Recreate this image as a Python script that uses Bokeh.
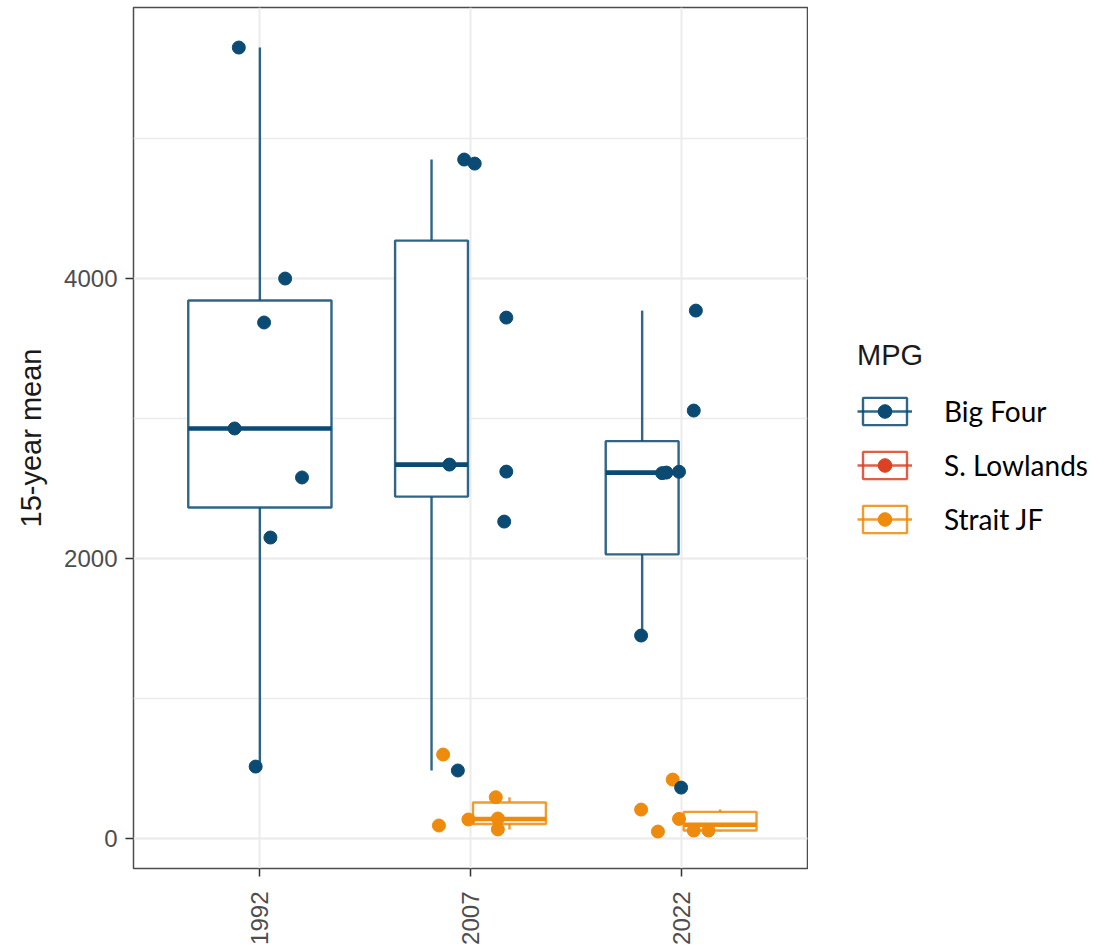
import math
import numpy as np
from bokeh.plotting import figure
from bokeh.layouts import row
from bokeh.models import (ColumnDataSource, Range1d, FixedTicker, SingleIntervalTicker,
                          Legend, LegendItem)
from bokeh.embed import file_html
from bokeh.resources import INLINE

# ---------------- data ----------------
years = ["1992", "2007", "2022"]
groups = ["Big Four", "S. Lowlands", "Strait JF"]
group_colors = ["#0b4a72", "#dd4124", "#ee8a0c"]

big_four_1992 = [5650, 4000, 3686, 2929, 2579, 2150, 514]
big_four_2007 = [4850, 4821, 3721, 2671, 2621, 2264, 486]
big_four_2022 = [3771, 3057, 2620, 2614, 2610, 1450, 364]

s_lowlands_1992 = []
s_lowlands_2007 = []
s_lowlands_2022 = []

strait_jf_1992 = []
strait_jf_2007 = [600, 93, 136, 295, 143, 65]
strait_jf_2022 = [421, 207, 50, 140, 57, 57]

# horizontal jitter of each point (fraction of the category spacing), as seen
jitter_big_four_1992 = [-0.10, 0.12, 0.02, -0.12, 0.20, 0.05, -0.02]
jitter_big_four_2007 = [-0.03, 0.02, 0.17, -0.10, 0.17, 0.16, -0.06]
jitter_big_four_2022 = [0.07, 0.06, -0.01, -0.07, -0.09, -0.19, 0.00]
jitter_strait_jf_2007 = [-0.13, -0.15, -0.01, 0.12, 0.13, 0.13]
jitter_strait_jf_2022 = [-0.04, -0.19, -0.11, -0.01, 0.06, 0.13]

values = {
    "Big Four": [big_four_1992, big_four_2007, big_four_2022],
    "S. Lowlands": [s_lowlands_1992, s_lowlands_2007, s_lowlands_2022],
    "Strait JF": [strait_jf_1992, strait_jf_2007, strait_jf_2022],
}
jitters = {
    "Big Four": [jitter_big_four_1992, jitter_big_four_2007, jitter_big_four_2022],
    "S. Lowlands": [[], [], []],
    "Strait JF": [[], jitter_strait_jf_2007, jitter_strait_jf_2022],
}

# ---------------- layout constants ----------------
SINGLE_W = 0.68
DODGE_W = 0.346
DODGE_OFF = 0.185
FONT = "Liberation Sans"
LINE_W = 2.4


def box_stats(v):
    v = np.asarray(v, dtype=float)
    q1, med, q3 = np.percentile(v, [25, 50, 75])
    iqr = q3 - q1
    lo = v[v >= q1 - 1.5 * iqr].min()
    hi = v[v <= q3 + 1.5 * iqr].max()
    return q1, med, q3, lo, hi


p = figure(width=808, height=949,
           x_range=Range1d(0.4, 3.6), y_range=Range1d(-214, 5936),
           output_backend="svg", toolbar_location=None,
           min_border_left=133, min_border_right=1,
           min_border_top=7, min_border_bottom=81)
p.background_fill_color = "white"
p.border_fill_color = "white"
p.outline_line_color = "#4d4d4d"
p.outline_line_width = 1.5

# grid
p.xgrid.ticker = FixedTicker(ticks=[1, 2, 3])
p.xgrid.grid_line_color = "#ebebeb"
p.xgrid.grid_line_width = 2
yt = SingleIntervalTicker(interval=2000, num_minor_ticks=2)
p.yaxis.ticker = yt
p.ygrid.ticker = yt
p.ygrid.grid_line_color = "#ebebeb"
p.ygrid.grid_line_width = 2
p.ygrid.minor_grid_line_color = "#ebebeb"
p.ygrid.minor_grid_line_width = 1.5

# axes
p.xaxis.ticker = FixedTicker(ticks=[1, 2, 3])
p.xaxis.major_label_overrides = {i + 1: y for i, y in enumerate(years)}
p.xaxis.major_label_orientation = math.pi / 2
for ax in (p.xaxis, p.yaxis):
    ax.axis_line_color = None
    ax.major_tick_line_color = "#333333"
    ax.major_tick_line_width = 1.5
    ax.major_tick_out = 8
    ax.major_tick_in = 0
    ax.minor_tick_line_color = None
    ax.major_label_text_font = FONT
    ax.major_label_text_font_size = "24px"
    ax.major_label_text_color = "#4d4d4d"
    ax.major_label_standoff = 8
p.xaxis.major_label_standoff = 15
p.yaxis.axis_label = "15-year mean"
p.yaxis.axis_label_text_font = FONT
p.yaxis.axis_label_text_font_size = "29px"
p.yaxis.axis_label_text_font_style = "normal"
p.yaxis.axis_label_text_color = "#1a1a1a"
p.yaxis.axis_label_standoff = 14

# ---------------- boxes ----------------
n_present = [sum(1 for g in groups if len(values[g][i]) > 0) for i in range(len(years))]

for gi, g in enumerate(groups):
    col = group_colors[gi]
    bx = dict(left=[], right=[], bottom=[], top=[])
    wh = dict(x0=[], y0=[], x1=[], y1=[])
    md = dict(x0=[], y0=[], x1=[], y1=[])
    for yi in range(len(years)):
        v = values[g][yi]
        if len(v) == 0:
            continue
        present = [h for h in groups if len(values[h][yi]) > 0]
        if n_present[yi] == 1:
            c, w = yi + 1, SINGLE_W
        else:
            k = present.index(g)
            c = yi + 1 + (-DODGE_OFF if k == 0 else DODGE_OFF)
            w = DODGE_W
        q1, med, q3, lo, hi = box_stats(v)
        bx["left"].append(c - w / 2); bx["right"].append(c + w / 2)
        bx["bottom"].append(q1); bx["top"].append(q3)
        wh["x0"] += [c, c]; wh["x1"] += [c, c]
        wh["y0"] += [q3, q1]; wh["y1"] += [hi, lo]
        md["x0"].append(c - w / 2); md["x1"].append(c + w / 2)
        md["y0"].append(med); md["y1"].append(med)
    if bx["left"]:
        p.segment(x0="x0", y0="y0", x1="x1", y1="y1", source=ColumnDataSource(wh),
                  line_color=col, line_width=LINE_W, line_alpha=0.85)
        p.quad(left="left", right="right", bottom="bottom", top="top",
               source=ColumnDataSource(bx), fill_color="white",
               line_color=col, line_width=LINE_W, line_alpha=0.85)
        p.segment(x0="x0", y0="y0", x1="x1", y1="y1", source=ColumnDataSource(md),
                  line_color=col, line_width=4.6)

# ---------------- points ----------------
for gi in [2, 1, 0]:
    g = groups[gi]
    xs, ys = [], []
    for yi in range(len(years)):
        for val, j in zip(values[g][yi], jitters[g][yi]):
            xs.append(yi + 1 + j)
            ys.append(val)
    if xs:
        p.scatter(x=xs, y=ys, size=13, marker="circle",
                  fill_color=group_colors[gi], line_color=group_colors[gi])

# ---------------- legend: separate blank panel on the right ----------------
lf = figure(width=291, height=949, x_range=Range1d(0, 1), y_range=Range1d(0, 1),
            x_axis_type=None, y_axis_type=None, output_backend="svg",
            toolbar_location=None, min_border=0)
lf.outline_line_color = None
lf.grid.visible = False
lf.background_fill_color = "white"
lf.border_fill_color = "white"

items = []
nan = float("nan")
for gi, g in enumerate(groups):
    col = group_colors[gi]
    r1 = lf.quad(left=[nan], right=[nan], bottom=[nan], top=[nan],
                 fill_color="white", line_color=col, line_width=LINE_W, line_alpha=0.85)
    r2 = lf.segment(x0=[nan], y0=[nan], x1=[nan], y1=[nan], line_color=col,
                    line_width=LINE_W, line_alpha=0.85)
    r3 = lf.scatter(x=[nan], y=[nan], size=13, fill_color=col, line_color=col)
    items.append(LegendItem(label=g, renderers=[r1, r2, r3]))

legend = Legend(items=items, location=(49, 332), title="MPG",
                title_text_font=FONT, title_text_font_size="29px",
                title_text_color="#1a1a1a", title_text_font_style="normal",
                title_standoff=22,
                label_text_font="Lato", label_text_font_size="28px",
                label_text_color="#000000", label_standoff=32,
                glyph_width=55, glyph_height=34, spacing=20,
                padding=0, margin=0, border_line_color=None,
                background_fill_alpha=0)
lf.add_layout(legend, "center")

layout = row(p, lf, spacing=0)
open("out.html", "w").write(file_html(layout, INLINE))
